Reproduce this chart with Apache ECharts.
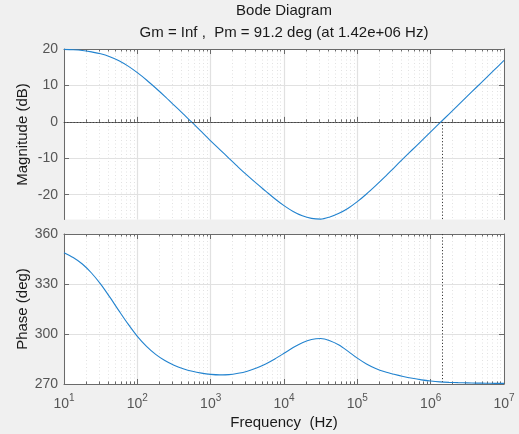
<!DOCTYPE html>
<html>
<head>
<meta charset="utf-8">
<script src="https://cdn.jsdelivr.net/npm/echarts@6.0.0/dist/echarts.min.js"></script>
<style>
  html, body { margin: 0; padding: 0; background: #f0f0f0; }
  #chart { width: 519px; height: 434px; }
</style>
</head>
<body>
<div id="chart"></div>
<script>
// --- data (eighth-decade samples) ---
const freqHz = [
  10, 13.34, 17.78, 23.71, 31.62, 42.17, 56.23, 74.99,
  100, 133.4, 177.8, 237.1, 316.2, 421.7, 562.3, 749.9,
  1000, 1334, 1778, 2371, 3162, 4217, 5623, 7499,
  1e4, 13335, 17783, 23714, 31623, 42170, 56234, 74989,
  1e5, 133352, 177828, 237137, 316228, 421697, 562341, 749894,
  1e6, 1333521, 1778279, 2371374, 3162278, 4216965, 5623413, 7498942,
  1e7
];
const magnitudeDb = [
  19.9, 19.8, 19.6, 19.2, 18.7, 17.9, 16.8, 15.3,
  13.5, 11.5, 9.3, 7.0, 4.6, 2.2, -0.2, -2.7,
  -5.2, -7.6, -10.0, -12.4, -14.7, -16.9, -19.0, -21.1,
  -23.0, -24.6, -25.8, -26.5, -26.7, -26.1, -25.1, -23.7,
  -21.9, -19.8, -17.5, -15.1, -12.6, -10.1, -7.65, -5.2,
  -2.75, -0.3, 2.15, 4.6, 7.05, 9.5, 11.95, 14.4,
  16.85
];
const phaseDeg = [
  348.8, 345.9, 342.0, 336.6, 329.9, 322.1, 313.9, 305.9,
  298.6, 292.6, 287.8, 284.1, 281.3, 279.2, 277.6, 276.5,
  275.8, 275.5, 275.6, 276.4, 277.7, 279.6, 282.0, 285.0,
  288.4, 291.9, 294.8, 296.7, 297.3, 296.0, 293.4, 289.6,
  285.5, 282.0, 279.3, 277.3, 275.8, 274.5, 273.4, 272.5,
  271.8, 271.3, 271.0, 270.8, 270.65, 270.55, 270.45, 270.4,
  270.35
];

const magTicks = [-20, -10, 0, 10, 20];
const phaseTicks = [270, 300, 330, 360];
const decadeTicks = [1e1, 1e2, 1e3, 1e4, 1e5, 1e6, 1e7];
const minorTicks = [];
decadeTicks.slice(0, -1).forEach(d => { for (let k = 2; k <= 9; k++) minorTicks.push(k * d); });

const crossoverHz = 1.42e6;
const phaseAtCrossover = 271.2;
const titleText = 'Bode Diagram';
const subtitleText = 'Gm = Inf ,  Pm = 91.2 deg (at 1.42e+06 Hz)';

// --- styling ---
const FONT = '"Liberation Sans", Arial, sans-serif';
const axisColor = '#6a6a6a';
const tickLabelColor = '#555555';
const lineColor = '#2283cf';
const grids = [
  { left: 64, top: 49, width: 440, height: 170.5 },
  { left: 64, top: 234, width: 440, height: 150 }
];

const chart = echarts.init(document.getElementById('chart'), null, { renderer: 'canvas' });

function xAxes(gi) {
  const base = { type: 'log', logBase: 10, min: 10, max: 1e7, gridIndex: gi };
  return [
    { ...base, position: 'bottom',
      axisLine: { show: true, lineStyle: { color: axisColor } },
      axisTick: { show: true, inside: true, length: 5, lineStyle: { color: axisColor } },
      splitLine: { show: true, lineStyle: { color: '#e1e1e1', width: 1.2 } },
      axisLabel: gi === 1 ? {
        show: true, margin: 9,
        formatter: v => '{b|10}{s|' + Math.round(Math.log10(v)) + '}',
        rich: {
          b: { fontSize: 14, fontFamily: FONT, color: tickLabelColor, verticalAlign: 'bottom', lineHeight: 18 },
          s: { fontSize: 10, fontFamily: FONT, color: tickLabelColor, verticalAlign: 'top', lineHeight: 18 }
        }
      } : { show: false } },
    { ...base, position: 'bottom',
      axisLine: { show: false },
      axisTick: { show: true, inside: true, length: 2.5, customValues: minorTicks, lineStyle: { color: axisColor } },
      splitLine: { show: true, lineStyle: { color: '#e2e2e2', type: [1, 2.5], width: 1 } },
      axisLabel: { show: false } },
    { ...base, position: 'top',
      axisLine: { show: true, lineStyle: { color: axisColor } },
      axisTick: { show: true, inside: true, length: 5, lineStyle: { color: axisColor } },
      splitLine: { show: false }, axisLabel: { show: false } },
    { ...base, position: 'top',
      axisLine: { show: false },
      axisTick: { show: true, inside: true, length: 2.5, customValues: minorTicks, lineStyle: { color: axisColor } },
      splitLine: { show: false }, axisLabel: { show: false } }
  ];
}

function yAxes(gi, min, max, ticks) {
  const base = { type: 'value', gridIndex: gi, min: min, max: max };
  return [
    { ...base, position: 'left',
      axisLine: { show: true, lineStyle: { color: axisColor } },
      axisTick: { show: true, inside: true, length: 5, customValues: ticks, lineStyle: { color: axisColor } },
      axisLabel: { show: true, customValues: ticks, margin: 6, fontSize: 14, fontFamily: FONT, color: tickLabelColor },
      splitLine: { show: true, lineStyle: { color: '#e1e1e1', width: 1.2 } } },
    { ...base, position: 'right',
      axisLine: { show: true, lineStyle: { color: axisColor } },
      axisTick: { show: true, inside: true, length: 5, customValues: ticks, lineStyle: { color: axisColor } },
      axisLabel: { show: false }, splitLine: { show: false } }
  ];
}

const dotted = { color: '#3c3c3c', type: [1.2, 2], width: 1 };

chart.setOption({
  animation: false,
  backgroundColor: '#f0f0f0',
  grid: grids.map(g => ({ ...g, show: true, backgroundColor: '#ffffff', borderWidth: 0 })),
  xAxis: [...xAxes(0), ...xAxes(1)],
  yAxis: [...yAxes(0, -26.8, 20, magTicks), ...yAxes(1, 270, 360, phaseTicks)],
  graphic: [
    { type: 'text', x: 284, y: 11, style: { text: titleText, font: '15px ' + FONT, fill: '#1a1a1a', align: 'center', verticalAlign: 'middle' } },
    { type: 'text', x: 284, y: 32.5, style: { text: subtitleText, font: '15px ' + FONT, fill: '#1a1a1a', align: 'center', verticalAlign: 'middle' } },
    { type: 'text', x: 22.5, y: 134.5, rotation: Math.PI / 2, style: { text: 'Magnitude (dB)', font: '15px ' + FONT, fill: '#1a1a1a', align: 'center', verticalAlign: 'middle' } },
    { type: 'text', x: 22.5, y: 309, rotation: Math.PI / 2, style: { text: 'Phase (deg)', font: '15px ' + FONT, fill: '#1a1a1a', align: 'center', verticalAlign: 'middle' } },
    { type: 'text', x: 284, y: 423, style: { text: 'Frequency  (Hz)', font: '15px ' + FONT, fill: '#1a1a1a', align: 'center', verticalAlign: 'middle' } }
  ],
  series: [
    {
      type: 'line', xAxisIndex: 0, yAxisIndex: 0,
      data: freqHz.map((f, i) => [f, magnitudeDb[i]]),
      smooth: 0.3, showSymbol: false, symbol: 'none',
      lineStyle: { color: lineColor, width: 1.1 },
      markLine: {
        silent: true, symbol: 'none', label: { show: false },
        lineStyle: dotted,
        data: [
          [{ coord: [10, 0] }, { coord: [1e7, 0] }],
          [{ coord: [crossoverHz, 0] }, { coord: [crossoverHz, -26.8] }]
        ]
      }
    },
    {
      type: 'line', xAxisIndex: 4, yAxisIndex: 2,
      data: freqHz.map((f, i) => [f, phaseDeg[i]]),
      smooth: 0.3, showSymbol: false, symbol: 'none',
      lineStyle: { color: lineColor, width: 1.1 },
      markLine: {
        silent: true, symbol: 'none', label: { show: false },
        lineStyle: dotted,
        data: [
          [{ coord: [crossoverHz, 360] }, { coord: [crossoverHz, phaseAtCrossover] }]
        ]
      }
    }
  ]
});
</script>
</body>
</html>
